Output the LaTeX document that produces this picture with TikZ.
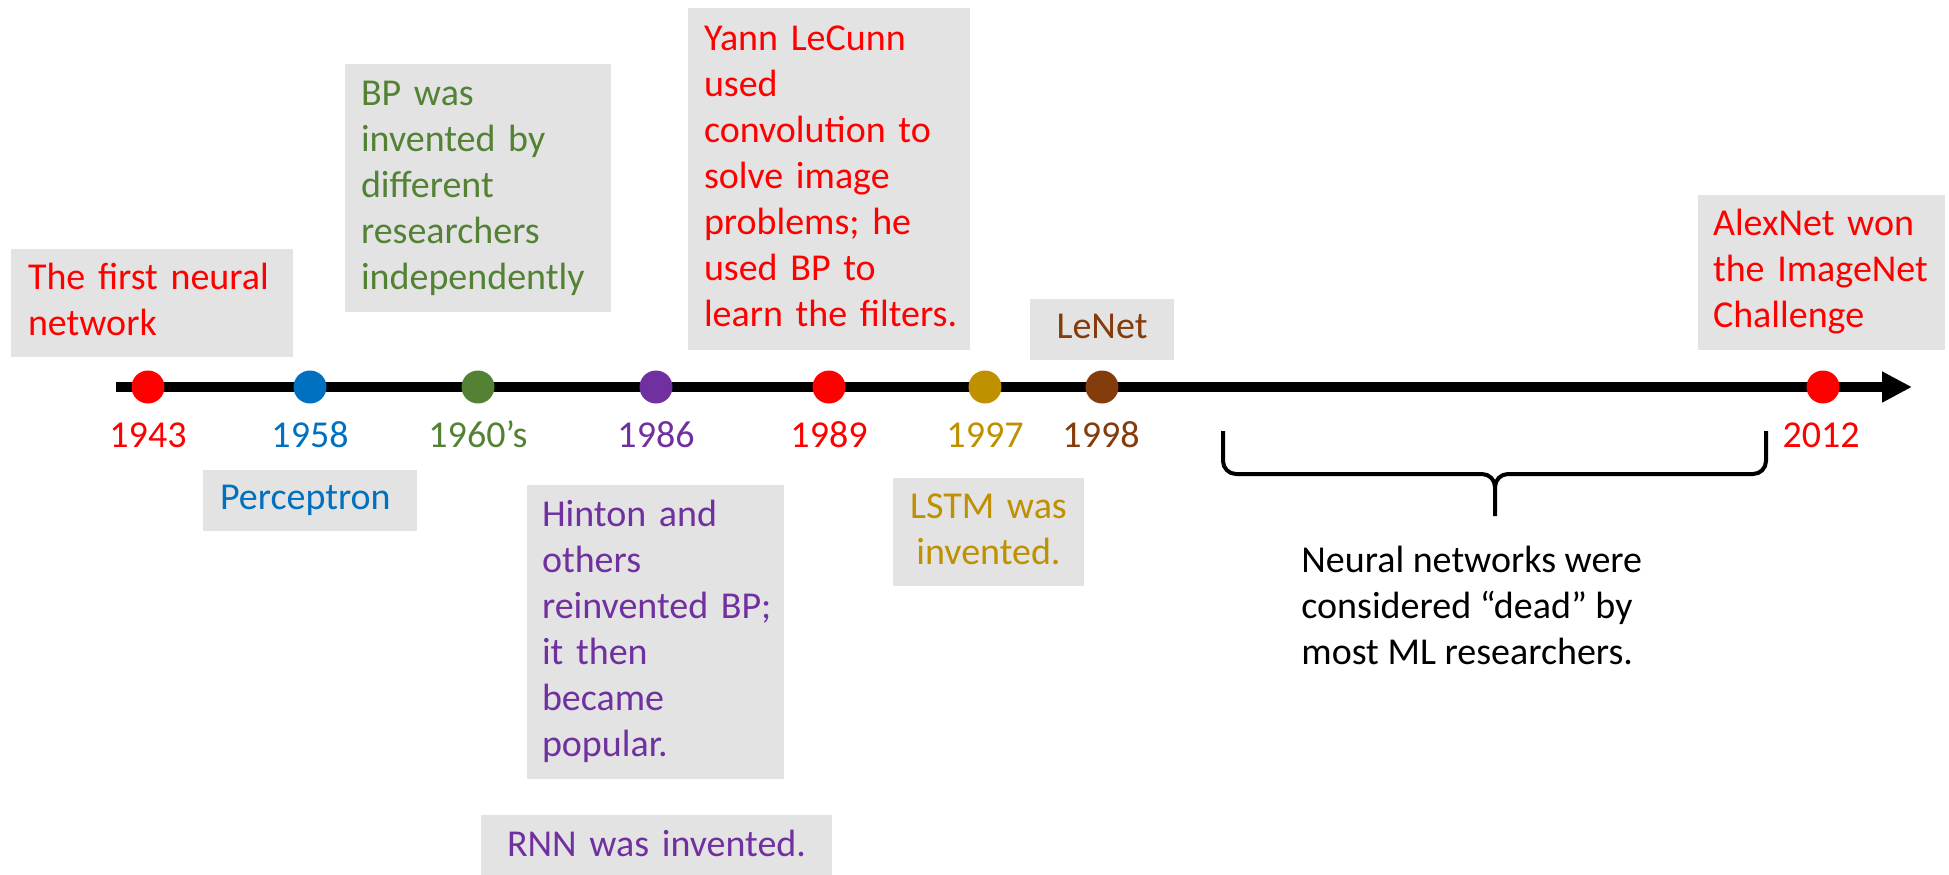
\documentclass[tikz,border=0pt]{standalone}
\usepackage{fontspec}
\setmainfont{Carlito}
\usetikzlibrary{arrows.meta}

\definecolor{evred}{HTML}{FF0000}
\definecolor{evblue}{HTML}{0070C0}
\definecolor{evgreen}{HTML}{548235}
\definecolor{evpurple}{HTML}{7030A0}
\definecolor{evgold}{HTML}{BF9000}
\definecolor{evbrown}{HTML}{843C0C}
\definecolor{boxgray}{HTML}{E3E3E3}

\newcommand\tlfont{\fontsize{19}{23}\selectfont\hyphenpenalty=10000 }

\begin{document}
\begin{tikzpicture}[x=0.5pt,y=-0.5pt,
  note/.style={fill=boxgray, inner ysep=0pt, align=left, font=\tlfont},
  cnote/.style={note, align=center},
  dot/.style={circle, inner sep=0pt, minimum size=16.5pt},
  year/.style={font=\tlfont, anchor=base, inner sep=0pt},
  bracepath/.style={line width=2pt, black},
]
\useasboundingbox (0,0) rectangle (1949,874);

% time axis
\coordinate (tlstart) at (116,387);
\coordinate (tlend) at (1912,387);
\draw[line width=4.6pt, -{Triangle[length=15pt,width=14.5pt]}] (tlstart) -- (tlend);

% events on the axis
\node[dot, fill=evred]    (d1943) at (148,387) {};
\node[dot, fill=evblue]   (d1958) at (310,387) {};
\node[dot, fill=evgreen]  (d1960) at (478,387) {};
\node[dot, fill=evpurple] (d1986) at (656,387) {};
\node[dot, fill=evred]    (d1989) at (829,387) {};
\node[dot, fill=evgold]   (d1997) at (985,387) {};
\node[dot, fill=evbrown]  (d1998) at (1102,387) {};
\node[dot, fill=evred]    (d2012) at (1823,387) {};

% years
\node[year, text=evred]    (y1943) at (148,447) {1943};
\node[year, text=evblue]   (y1958) at (310,447) {1958};
\node[year, text=evgreen]  (y1960) at (478,447) {1960’s};
\node[year, text=evpurple] (y1986) at (656,447) {1986};
\node[year, text=evred]    (y1989) at (829,447) {1989};
\node[year, text=evgold]   (y1997) at (985,447) {1997};
\node[year, text=evbrown]  (y1998) at (1101,447) {1998};
\node[year, text=evred]    (y2012) at (1821,447) {2012};

% notes above the axis
\node[note, text=evred, minimum width=141pt, minimum height=54pt,
      text width=124pt, inner xsep=8.5pt] (first) at (152,303)
  {\strut The~first~neural\\network\strut};
\node[note, text=evgreen, minimum width=133pt, minimum height=124pt,
      text width=117pt, inner xsep=8pt] (bp) at (478,188)
  {\strut BP~was\\invented~by\\different\\researchers\\independently\strut};
\node[note, text=evred, minimum width=141pt, minimum height=171pt,
      text width=125pt, inner xsep=8pt] (lecun) at (829,179)
  {\strut Yann~LeCunn\\used\\convolution~to\\solve~image\\problems;~he\\used~BP~to\\learn~the~filters.\strut};
\node[cnote, text=evbrown, minimum width=72pt, minimum height=30.5pt,
      text width=56pt, inner xsep=8pt] (lenet) at (1102,329.5)
  {\strut LeNet\strut};
\node[note, text=evred, minimum width=123.5pt, minimum height=77.5pt,
      text width=108.5pt, inner xsep=7.5pt] (alexnet) at (1821.5,272.5)
  {\strut AlexNet~won\\the~ImageNet\\Challenge\strut};

% notes below the axis
\node[note, text=evblue, minimum width=107pt, minimum height=30.5pt,
      text width=90pt, inner xsep=8.5pt] (perceptron) at (310,500.5)
  {\strut Perceptron\strut};
\node[note, text=evpurple, minimum width=128.5pt, minimum height=147pt,
      text width=113.5pt, inner xsep=7.5pt] (hinton) at (655.5,632)
  {\strut Hinton~and\\others\\reinvented~BP;\\it~then\\became\\popular.\strut};
\node[cnote, text=evpurple, minimum width=175.5pt, minimum height=32pt,
      text width=160pt, inner xsep=7pt] (rnn) at (656.5,847)
  {\strut RNN~was~invented.\strut};
\node[cnote, text=evgold, minimum width=95.5pt, minimum height=54pt,
      text width=80pt, inner xsep=7pt] (lstm) at (988.5,532)
  {\strut LSTM~was\\invented.\strut};

% brace spanning the quiet years
\coordinate (brL) at (1223,431);
\coordinate (brR) at (1766,431);
\coordinate (brTip) at (1495,516);
\draw[bracepath] (brL) -- (1223,461) to[out=-90,in=180] (1236,474)
  -- (1482,474) to[out=0,in=90] (1495,487) -- (brTip);
\draw[bracepath] (brR) -- (1766,461) to[out=-90,in=0] (1753,474)
  -- (1508,474) to[out=180,in=90] (1495,487);

\node[font=\tlfont, align=left, anchor=west, inner sep=0pt] (dead) at (1301,609)
  {\strut Neural networks were\\considered “dead” by\\most ML researchers.\strut};
\end{tikzpicture}
\end{document}
